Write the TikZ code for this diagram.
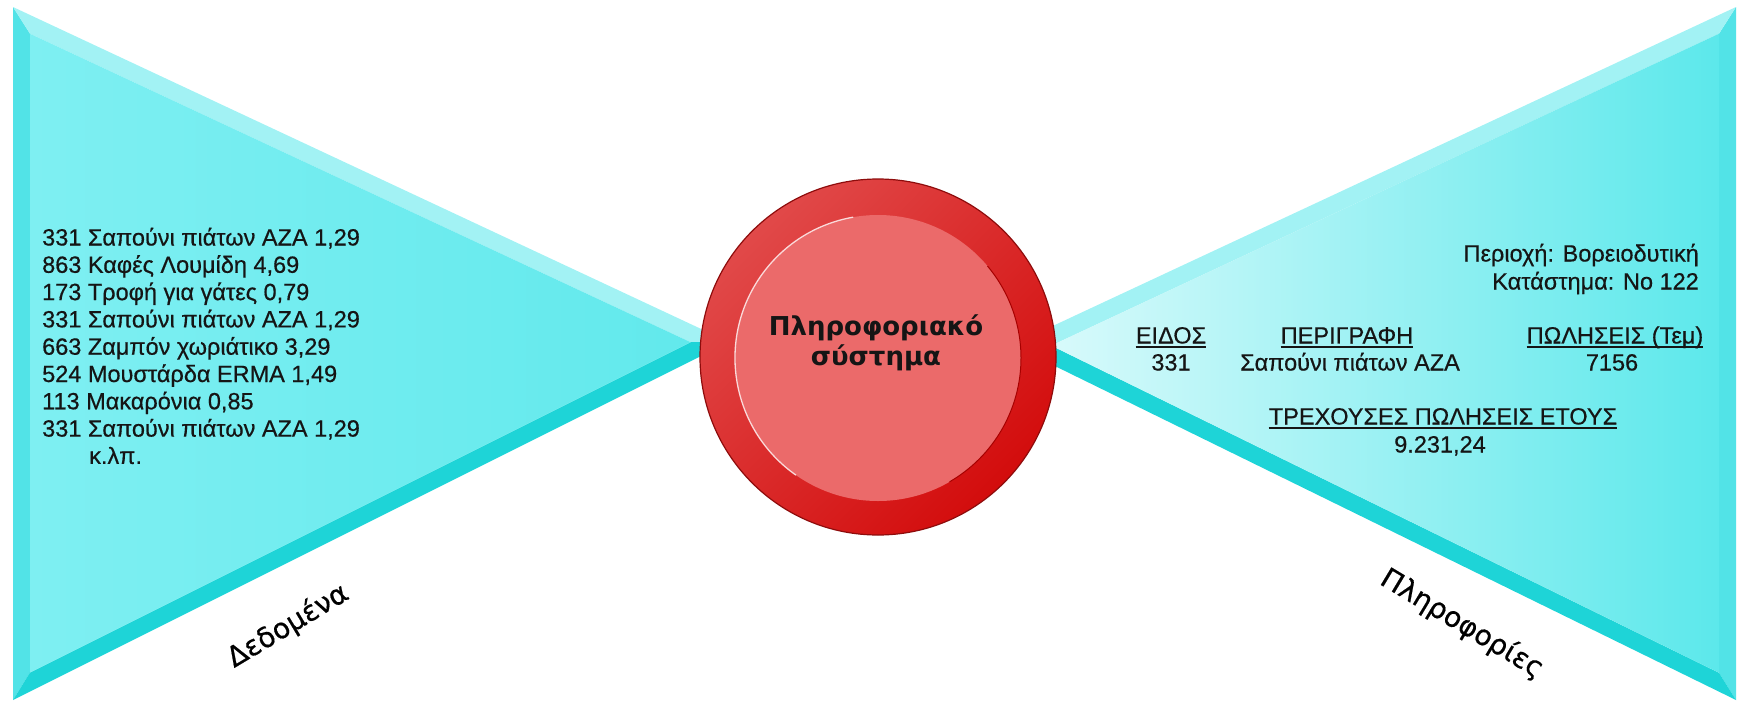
\documentclass[tikz,border=0pt]{standalone}
\usepackage{fontspec}
\usetikzlibrary{shadings}
\setmainfont{Liberation Sans}[FakeBold=1.5]
\newfontfamily\listfont{Liberation Sans}[FakeBold=0.5]
\newfontfamily\djv{DejaVu Sans}[FakeBold=0.6]
\newfontfamily\djvb{DejaVu Sans Bold}
\definecolor{bandS}{HTML}{52E3E7}
\definecolor{bandT}{HTML}{A2F2F4}
\definecolor{bandB}{HTML}{1ED4D7}
\definecolor{cyanA}{HTML}{7EEFF2}
\definecolor{cyanB}{HTML}{62E9EC}
\definecolor{cyanC}{HTML}{D8FAFB}
\definecolor{cyanD}{HTML}{5CE8EB}
\definecolor{ringL}{HTML}{E45656}
\definecolor{ringR}{HTML}{D00000}
\definecolor{ringM}{HTML}{DA2A2A}
\definecolor{ringEdge}{HTML}{8E0C0C}
\definecolor{innerRed}{HTML}{EB6A6A}
\definecolor{txt}{HTML}{151515}
\tikzset{
  listtxt/.style={anchor=base west, inner sep=0pt, text=txt, font=\listfont\fontsize{23.5}{27.3}\selectfont},
  rtxt/.style={inner sep=0pt, text=txt, font=\listfont\fontsize{23.5}{27.3}\selectfont},
  uline/.style={line width=1.4pt, txt},
  sidelabel/.style={text=black, font=\djv\fontsize{28}{32}\selectfont}
}
\begin{document}
\begin{tikzpicture}[x=1pt,y=-1pt]
\useasboundingbox (0,0) rectangle (1741,702);
% ---------- left triangle
\coordinate (A) at (13,7);
\coordinate (B) at (13,700);
\coordinate (C) at (729,342);
\coordinate (Ai) at (30,33.7);
\coordinate (Bi) at (30,672.5);
\coordinate (Ci) at (690.6,342.2);
\fill[bandS] (A)--(B)--(Bi)--(Ai)--cycle;
\fill[bandT] (A)--(C)--(Ci)--(Ai)--cycle;
\fill[bandB] (B)--(C)--(Ci)--(Bi)--cycle;
\shade[left color=cyanA, right color=cyanB] (Ai)--(Bi)--(Ci)--cycle;
% ---------- right triangle
\coordinate (D) at (1736,7);
\coordinate (E) at (1736,700);
\coordinate (F) at (1012,345);
\coordinate (Di) at (1719,33.7);
\coordinate (Ei) at (1719,672.8);
\coordinate (Fi) at (1051.3,345.6);
\fill[bandS] (D)--(E)--(Ei)--(Di)--cycle;
\fill[bandT] (D)--(F)--(Fi)--(Di)--cycle;
\fill[bandB] (E)--(F)--(Fi)--(Ei)--cycle;
\shade[left color=cyanC, right color=cyanD] (Fi)--(Di)--(Ei)--cycle;
% ---------- central circle
\node[circle, minimum size=356pt, inner sep=0pt] (ring) at (878,357) {};
\shade[upper left=ringL, lower right=ringR, upper right=ringM, lower left=ringM]
  (ring.center) circle[radius=178pt];
\draw[ringEdge, line width=1.2pt] (ring.center) circle[radius=178pt];
\fill[innerRed] ([yshift=-1pt]ring.center) circle[radius=143pt];
\draw[ringR!80!black, line width=1pt] ([yshift=-1pt]ring.center) ++(-60:143pt) arc[start angle=-60, end angle=40, radius=143pt];
\draw[white!75!innerRed, line width=1.3pt] ([yshift=-1pt]ring.center) ++(100:143pt) arc[start angle=100, end angle=235, radius=143pt];
\node[align=center, text=txt, font=\djvb\fontsize{26}{30}\selectfont] (sys) at (876,343) {Πληροφοριακό\\σύστημα};
% ---------- left list
\foreach \t [count=\i] in {{331 Σαπούνι πιάτων AZA 1,29},{863 Καφές Λουμίδη 4,69},{173 Τροφή για γάτες 0,79},{331 Σαπούνι πιάτων AZA 1,29},{663 Ζαμπόν χωριάτικο 3,29},{524 Μουστάρδα ERMA 1,49},{113 Μακαρόνια 0,85},{331 Σαπούνι πιάτων AZA 1,29}}
  \node[listtxt] (l\i) at (42,{245.5+27.3*(\i-1)}) {\t};
\node[listtxt] (l9) at (89,{245.5+27.3*8}) {κ.λπ.};
% ---------- right texts
\node[rtxt, anchor=base east] (reg) at (1699,261.5) {Περιοχή: Βορειοδυτική};
\node[rtxt, anchor=base east] (store) at (1699,289.5) {Κατάστημα: No 122};
\node[rtxt, anchor=base] (h1) at (1171,343.5) {ΕΙΔΟΣ};
\node[rtxt, anchor=base] (h2) at (1347,343.5) {ΠΕΡΙΓΡΑΦΗ};
\node[rtxt, anchor=base] (h3) at (1615,343.5) {ΠΩΛΗΣΕΙΣ (Τεμ)};
\node[rtxt, anchor=base] (v1) at (1171,370.5) {331};
\node[rtxt, anchor=base] (v2) at (1350,370.5) {Σαπούνι πιάτων AZA};
\node[rtxt, anchor=base] (v3) at (1612,370.5) {7156};
\node[rtxt, anchor=base] (h4) at (1443,424.5) {ΤΡΕΧΟΥΣΕΣ ΠΩΛΗΣΕΙΣ ΕΤΟΥΣ};
\node[rtxt, anchor=base] (v4) at (1440,452.5) {9.231,24};
\foreach \h in {h1,h2,h3,h4}
  \draw[uline] ([yshift=-3.5pt]\h.base west) -- ([yshift=-3.5pt]\h.base east);
% ---------- side labels
\node[sidelabel, rotate=31] (dedo) at (288,626) {Δεδομένα};
\node[sidelabel, rotate=-31] (plir) at (1462,624) {Πληροφορίες};
\end{tikzpicture}
\end{document}
